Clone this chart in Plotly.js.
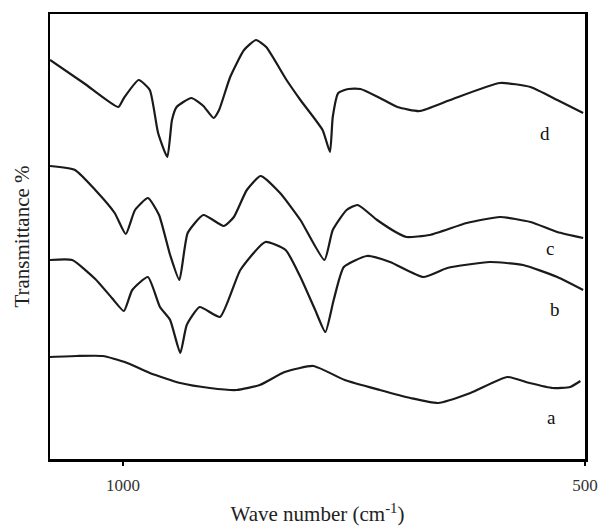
<!DOCTYPE html>
<html>
<head>
<meta charset="utf-8">
<script src="https://cdn.plot.ly/plotly-3.0.1.min.js"></script>
<style>html,body{margin:0;padding:0;background:#fff;}#chart{width:598px;height:532px;}</style>
</head>
<body>
<div id="chart"></div>
<script>
// Wavenumbers (cm-1) and transmittance (arbitrary, offset) for each spectrum
const dWn = [1079, 1041, 1005, 999, 983, 971, 962, 952, 947, 942, 926, 913, 902, 896, 884, 869, 856, 845, 823, 808, 784, 776, 773, 767, 756, 743, 724, 703, 679, 646, 592, 559, 530, 502];
const dT  = [399, 375, 352, 361, 379, 369, 326, 302, 339, 352, 361, 353, 341, 349, 382, 409, 419, 412, 379, 359, 329, 307, 342, 366, 370, 370, 362, 352, 348, 359, 376, 372, 359, 346];

const cWn = [1079, 1052, 1030, 1009, 997, 987, 973, 961, 949, 939, 930, 913, 891, 880, 866, 851, 830, 808, 782, 773, 758, 746, 725, 703, 693, 668, 628, 592, 559, 530, 502];
const cT  = [293, 289, 269, 246, 225, 249, 261, 244, 204, 179, 226, 244, 233, 242, 269, 283, 266, 239, 199, 229, 249, 254, 239, 226, 222, 224, 236, 242, 237, 227, 221];

const bWn = [1079, 1055, 1030, 1012, 999, 990, 973, 960, 949, 938, 931, 917, 895, 873, 846, 824, 808, 792, 781, 772, 761, 736, 711, 675, 649, 603, 567, 530, 502];
const bT  = [199, 199, 180, 161, 148, 169, 182, 152, 139, 106, 134, 152, 142, 189, 217, 209, 182, 149, 127, 159, 192, 203, 197, 182, 191, 197, 194, 182, 169];

const aWn = [1079, 1050, 1022, 998, 971, 938, 906, 877, 852, 825, 794, 760, 722, 689, 659, 624, 584, 560, 535, 516, 505];
const aT  = [102, 103, 103, 97, 86, 76, 71, 69, 74, 87, 93, 79, 69, 61, 56, 66, 82, 76, 71, 72, 78];

const labels = ['a', 'b', 'c', 'd'];
const labelWn = [536, 532, 538, 543];
const labelT  = [42, 150, 211, 326];

const tickVals = [1000, 500];
const tickText = ['1000', '500'];

const serif = 'Liberation Serif, Times New Roman, serif';
const lineStyle = {color: '#1a1a1a', width: 2.2, shape: 'spline', smoothing: 0.5};

const traces = [
  {x: aWn, y: aT, name: 'a'},
  {x: bWn, y: bT, name: 'b'},
  {x: cWn, y: cT, name: 'c'},
  {x: dWn, y: dT, name: 'd'}
].map(t => Object.assign(t, {type: 'scatter', mode: 'lines', line: lineStyle, hoverinfo: 'skip'}));

const annotations = labels.map((s, i) => ({
  x: labelWn[i], y: labelT[i], xref: 'x', yref: 'y', text: s, showarrow: false,
  font: {family: serif, size: 19, color: '#111'}
}));

const layout = {
  width: 598, height: 532,
  margin: {l: 50, r: 13, t: 14, b: 73},
  paper_bgcolor: '#fff', plot_bgcolor: '#fff',
  showlegend: false,
  xaxis: {
    range: [1079, 500],
    tickvals: tickVals, ticktext: tickText,
    ticks: 'outside', ticklen: 4, tickwidth: 2, tickcolor: '#000',
    ticklabelstandoff: 5,
    ticklabeloverflow: 'allow',
    tickfont: {family: serif, size: 17, color: '#333'},
    showgrid: false, zeroline: false,
    showline: true, linecolor: '#000', linewidth: 2.5, mirror: true,
    title: {text: 'Wave number (cm<sup>-1</sup>)', font: {family: serif, size: 21, color: '#222'}, standoff: 13}
  },
  yaxis: {
    range: [0, 445],
    showticklabels: false, ticks: '',
    showgrid: false, zeroline: false,
    showline: true, linecolor: '#000', linewidth: 2.5, mirror: true,
    title: {text: 'Transmittance %', font: {family: serif, size: 21, color: '#222'}, standoff: 12}
  },
  annotations: annotations
};

Plotly.newPlot('chart', traces, layout, {displayModeBar: false, staticPlot: true});
</script>
</body>
</html>
